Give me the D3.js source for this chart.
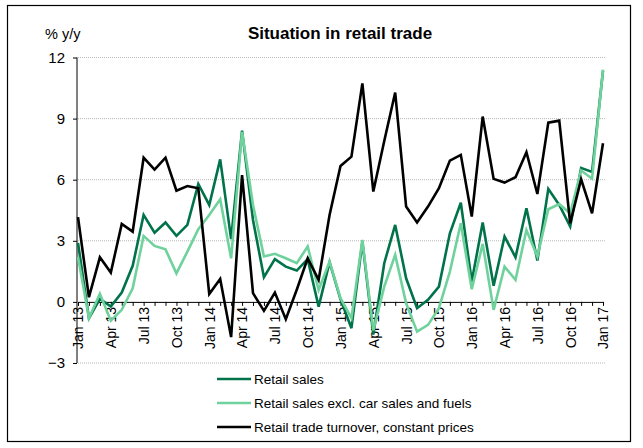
<!DOCTYPE html>
<html>
<head>
<meta charset="utf-8">
<script src="https://cdnjs.cloudflare.com/ajax/libs/d3/7.8.5/d3.min.js"></script>
<style>
body { margin: 0; background: #fff; }
svg { font-family: "Liberation Sans", Arial, sans-serif; }
</style>
</head>
<body>
<svg width="643" height="448"></svg>
<script>

var monthNames = ['Jan','Feb','Mar','Apr','May','Jun','Jul','Aug','Sep','Oct','Nov','Dec'];
var years = ['13','14','15','16','17'];

var months = [];
years.forEach(function(y){
	monthNames.forEach(function(m){ months.push(m + ' ' + y) });
});
months = months.slice(0, 49); // Jan 13 .. Jan 17

var yTicks = [-3, 0, 3, 6, 9, 12];

var retailSales = [
	2.9, -0.8, 0.15, -0.23, 0.46, 1.77, 4.27, 3.4, 3.9, 3.24, 3.78, 5.79,
	4.76, 7.0, 3.08, 8.41, 4.02, 1.21, 2.1, 1.73, 1.54, 2.1, -0.23, 1.95,
	0.13, -1.29, 2.96, -1.6, 1.9, 3.78, 1.16, -0.31, 0.1, 0.75, 3.37, 4.87,
	1.0, 3.9, 0.79, 3.21, 2.19, 4.6, 2.03, 5.55, 4.76, 3.7, 6.58, 6.38,
	11.35
];

var retailExcl = [
	2.2, -0.8, 0.4, -0.92, -0.39, 0.67, 3.24, 2.75, 2.58, 1.4, 2.47, 3.57,
	4.27, 5.04, 2.14, 8.35, 4.76, 2.23, 2.36, 2.14, 1.9, 2.72, 0.59, 1.98,
	0.18, -0.8, 3.04, -1.4, 0.75, 2.31, -0.07, -1.46, -1.13, -0.31, 1.49, 3.86,
	0.62, 2.85, -0.39, 1.73, 1.08, 3.53, 2.23, 4.55, 4.8, 4.35, 6.45, 6.05,
	11.4
];

var turnover = [
	4.16, 0.23, 2.19, 1.44, 3.83, 3.45, 7.08, 6.5, 7.08, 5.46, 5.69, 5.58,
	0.39, 1.13, -1.73, 6.23, 0.43, -0.44, 0.46, -0.85, 0.6, 2.14, 1.08, 4.27,
	6.67, 7.13, 10.73, 5.42, 7.9, 10.28, 4.68, 3.9, 4.68, 5.58, 6.94, 7.22,
	4.19, 9.1, 6.04, 5.86, 6.12, 7.35, 5.3, 8.8, 8.9, 3.86, 6.02, 4.35,
	7.79
];

var series = [
	{name: 'Retail sales', values: retailSales, color: '#00734a'},
	{name: 'Retail sales excl. car sales and fuels', values: retailExcl, color: '#6fd29c'},
	{name: 'Retail trade turnover, constant prices', values: turnover, color: '#000000'}
];

window.onload = function(){

	var svg = d3.select('svg');

	// outer frame
	svg.append('rect')
		.attr('x', 7.5).attr('y', 5.5)
		.attr('width', 623).attr('height', 436)
		.style('fill', 'none')
		.style('stroke', '#000')
		.style('stroke-width', 1.2)

	var x = d3.scalePoint()
		.domain(months)
		.range([78, 603])

	var y = d3.scaleLinear()
		.domain([-3, 12])
		.range([363, 57.5])

	// grid
	svg.append('g')
		.selectAll('line')
		.data(yTicks.filter(function(d){ return d != 0 }))
		.enter()
		.append('line')
		.attr('x1', 78).attr('x2', 606)
		.attr('y1', function(d){ return y(d) })
		.attr('y2', function(d){ return y(d) })
		.style('stroke', '#b8b8b8')
		.style('stroke-width', 1)
		.style('stroke-dasharray', '1,1')

	// y axis
	var yAxis = svg.append('g')
		.attr('transform', 'translate(77,0)')
		.call(d3.axisLeft(y).tickValues(yTicks).tickSize(4).tickPadding(8))

	yAxis.select('.domain').attr('d', 'M0,' + y(-3) + 'V' + y(12)).style('stroke', '#000')
	yAxis.selectAll('text').style('font-size', '15px').style('fill', '#000')

	// x axis on zero
	var xAxis = svg.append('g')
		.attr('transform', 'translate(0,' + y(0) + ')')
		.call(d3.axisBottom(x).tickSize(4).tickSizeOuter(0)
			.tickFormat(function(d, i){ return i % 3 == 0 ? d : '' }))

	xAxis.select('.domain').style('stroke', '#000')
	xAxis.selectAll('text')
		.attr('transform', 'rotate(-90)')
		.attr('x', -5).attr('y', 0).attr('dy', '0.35em')
		.style('text-anchor', 'end')
		.style('font-size', '14px')
		.style('fill', '#000')

	// lines
	var line = d3.line()
		.x(function(d, i){ return x(months[i]) })
		.y(function(d){ return y(d) })

	svg.append('g')
		.selectAll('path')
		.data(series)
		.enter()
		.append('path')
		.attr('d', function(s){ return line(s.values) })
		.style('fill', 'none')
		.style('stroke', function(s){ return s.color })
		.style('stroke-width', 2.6)
		.style('stroke-linejoin', 'miter')

	// titles
	svg.append('text')
		.attr('x', 340).attr('y', 39)
		.style('text-anchor', 'middle')
		.style('font-weight', 'bold')
		.style('font-size', '17px')
		.text('Situation in retail trade')

	svg.append('text')
		.attr('x', 45).attr('y', 39)
		.style('font-size', '14.5px')
		.text('% y/y')

	// legend
	var legend = svg.append('g')
		.selectAll('g')
		.data(series)
		.enter()
		.append('g')
		.attr('transform', function(d, i){ return 'translate(217,' + (379 + i * 24) + ')' })

	legend.append('line')
		.attr('x1', 0).attr('x2', 34)
		.style('stroke', function(d){ return d.color })
		.style('stroke-width', 2.6)

	legend.append('text')
		.attr('x', 37).attr('dy', '0.35em')
		.style('font-size', '13.5px')
		.text(function(d){ return d.name })

};
</script>
</body>
</html>
